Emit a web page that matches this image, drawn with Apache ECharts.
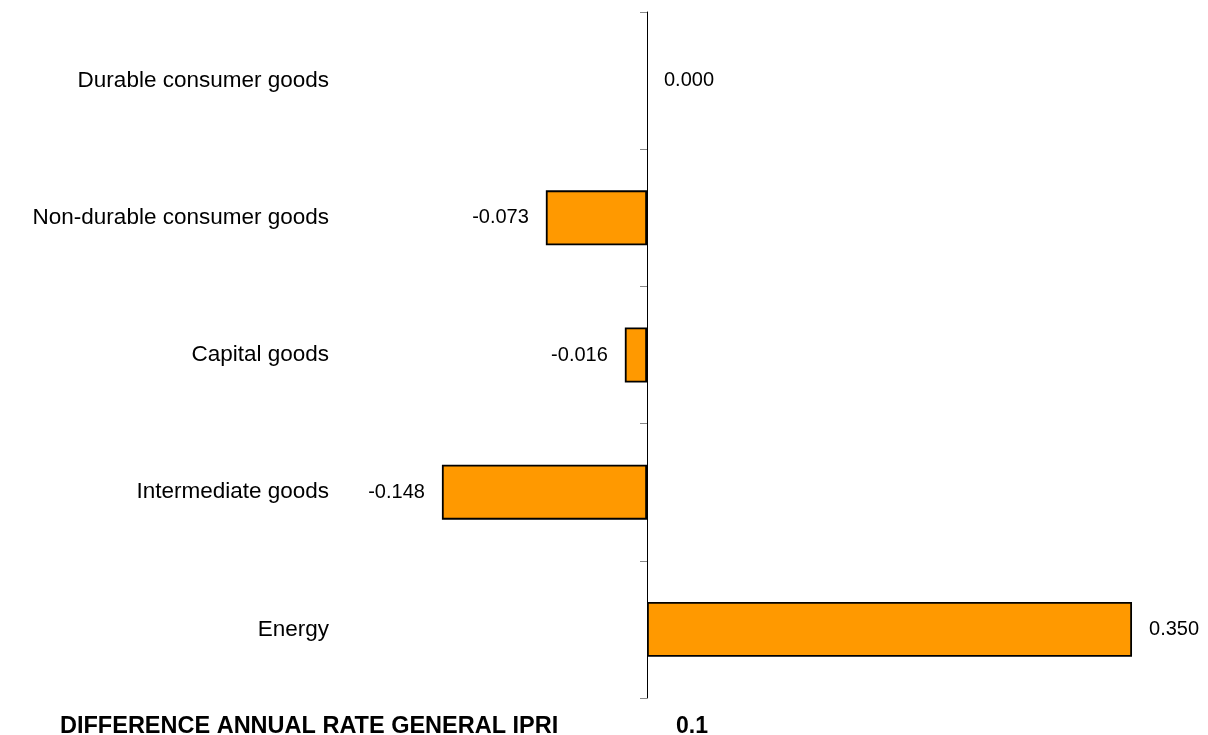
<!DOCTYPE html>
<html>
<head>
<meta charset="utf-8">
<script src="https://cdn.jsdelivr.net/npm/echarts@6/dist/echarts.min.js"></script>
<style>html,body{margin:0;padding:0;background:#fff;}#c{width:1208px;height:735px;}</style>
</head>
<body>
<div id="c"></div>
<script>
const categories = ['Durable consumer goods', 'Non-durable consumer goods', 'Capital goods', 'Intermediate goods', 'Energy'];
const values = [0.000, -0.073, -0.016, -0.148, 0.350];
const footerLabel = 'DIFFERENCE ANNUAL RATE GENERAL IPRI';
const footerValue = '0.1';

const chart = echarts.init(document.getElementById('c'));
chart.setOption({
  animation: false,
  grid: { left: 92.7, right: 6.7, top: 12, bottom: 37, outerBoundsMode: 'none' },
  xAxis: {
    type: 'value', min: -0.4, max: 0.4,
    show: false, splitLine: { show: false }
  },
  yAxis: [{
    type: 'category', data: categories, inverse: true,
    axisLine: { show: true, onZero: true, lineStyle: { color: '#000', width: 1 } },
    axisTick: { show: true, length: 7, inside: false, lineStyle: { color: '#888', width: 1 } },
    axisLabel: { show: false }
  }, {
    type: 'category', data: categories, inverse: true, position: 'left', offset: -244.3,
    axisLine: { show: false, onZero: false },
    axisTick: { show: false },
    axisLabel: { show: true, margin: 8, fontFamily: 'Liberation Sans, Arial', fontSize: 22.5, color: '#000', align: 'right', hideOverlap: false }
  }],
  series: [{
    type: 'bar',
    yAxisIndex: 0,
    data: values.map(v => ({
      value: v,
      label: { position: v < 0 ? 'left' : 'right' },
      itemStyle: v === 0 ? { borderWidth: 0 } : {}
    })),
    barWidth: '40%',
    itemStyle: { color: '#FF9900', borderColor: '#000', borderWidth: 1.8 },
    label: {
      show: true, distance: 17,
      fontFamily: 'Liberation Sans, Arial', fontSize: 20, color: '#000',
      formatter: p => p.value.toFixed(3)
    }
  }],
  graphic: [
    { type: 'text', left: 60, top: 715, style: { text: footerLabel, font: 'bold 23.5px "Liberation Sans", Arial', fill: '#000' } },
    { type: 'text', left: 676, top: 715, style: { text: footerValue, font: 'bold 23px "Liberation Sans", Arial', fill: '#000' } }
  ]
});
</script>
</body>
</html>
